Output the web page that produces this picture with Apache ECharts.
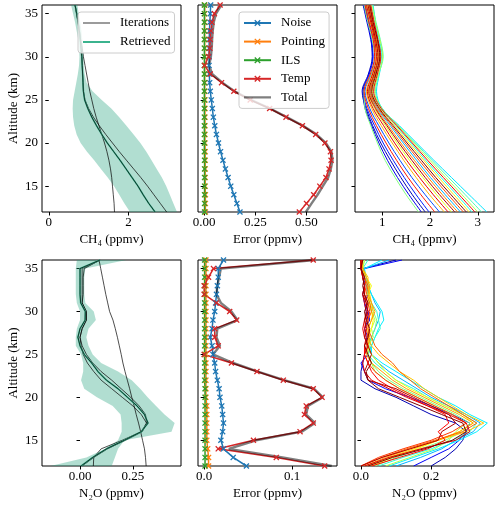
<!DOCTYPE html>
<html><head><meta charset="utf-8">
<script src="https://cdn.jsdelivr.net/npm/echarts@6/dist/echarts.min.js"></script>
<style>html,body{margin:0;padding:0;background:#fff}#c{width:500px;height:508px}</style>
</head><body><div id="c"></div>
<script>
// ---------- data ----------
const ALT = [12,13,14,15,16,17,18,19,20,21,22,23,24,25,26,27,28,29,30,31,32,33,34,35,36];
const ALT2 = [12,14,16,18,20,22,24,26,28,30,32,34,36];
const Y_TICKS = [15,20,25,30,35];

// CH4 retrieval panel
const ch4Retrieved = [2.67,2.51,2.37,2.24,2.09,1.94,1.79,1.63,1.47,1.33,1.2,1.08,0.98,0.9,0.87,0.86,0.85,0.84,0.83,0.81,0.79,0.77,0.74,0.7,0.66];
const ch4BandLow = [2.04,1.9,1.77,1.64,1.48,1.31,1.14,0.96,0.8,0.7,0.64,0.61,0.6,0.61,0.65,0.69,0.73,0.76,0.77,0.76,0.74,0.7,0.66,0.61,0.56];
const ch4BandHigh = [3.22,3.13,3.04,2.95,2.84,2.71,2.58,2.45,2.3,2.13,1.95,1.77,1.57,1.33,1.1,0.95,0.9,0.88,0.87,0.86,0.84,0.82,0.79,0.75,0.72];
const ch4IterA = [1.65,1.64,1.62,1.6,1.58,1.55,1.51,1.46,1.4,1.33,1.26,1.19,1.13,1.08,1.03,0.99,0.95,0.91,0.87,0.84,0.8,0.77,0.73,0.7,0.66];
const ch4IterB = [2.96,2.8,2.64,2.48,2.31,2.13,1.95,1.77,1.6,1.43,1.27,1.12,1.0,0.91,0.87,0.86,0.85,0.84,0.83,0.81,0.79,0.77,0.74,0.7,0.66];

// CH4 error panel
const ch4Noise = [0.175,0.16,0.145,0.13,0.117,0.104,0.092,0.08,0.07,0.06,0.052,0.045,0.04,0.035,0.03,0.027,0.025,0.024,0.024,0.024,0.025,0.026,0.028,0.03,0.032];
const ch4Pointing = [0.006,0.006,0.006,0.005,0.005,0.005,0.005,0.005,0.004,0.004,0.004,0.004,0.004,0.004,0.003,0.003,0.003,0.003,0.003,0.003,0.003,0.003,0.003,0.003,0.003];
const ch4ILS = [0.002,0.002,0.002,0.002,0.002,0.002,0.002,0.001,0.001,0.001,0.001,0.001,0.001,0.001,0.001,0.001,0.001,0.001,0.001,0.001,0.001,0.001,0.001,0.001,0.001];
const ch4Temp = [0.465,0.5,0.535,0.565,0.595,0.61,0.62,0.617,0.59,0.545,0.48,0.4,0.32,0.225,0.145,0.085,0.03,0.002,0.022,0.028,0.03,0.033,0.038,0.05,0.078];
const ch4Total = [0.497,0.525,0.554,0.58,0.606,0.619,0.627,0.622,0.594,0.548,0.483,0.403,0.322,0.228,0.148,0.089,0.039,0.024,0.033,0.037,0.039,0.042,0.047,0.058,0.084];

// CH4 ensemble panel (altitudes ALT2), colour position in jet map
const ch4Ens = [
  [1.76,1.5,1.27,1.06,0.9,0.76,0.64,0.62,0.76,0.84,0.79,0.7,0.62],
  [1.82,1.56,1.32,1.11,0.93,0.78,0.64,0.6,0.72,0.8,0.76,0.68,0.6],
  [1.9,1.63,1.39,1.17,0.97,0.8,0.66,0.58,0.71,0.79,0.77,0.7,0.61],
  [1.98,1.71,1.46,1.23,1.02,0.84,0.68,0.6,0.73,0.81,0.78,0.71,0.63],
  [2.1,1.81,1.54,1.3,1.08,0.88,0.71,0.62,0.75,0.84,0.81,0.72,0.64],
  [2.2,1.9,1.62,1.37,1.14,0.93,0.74,0.64,0.77,0.85,0.82,0.73,0.65],
  [2.3,1.99,1.71,1.45,1.21,0.98,0.78,0.67,0.79,0.87,0.83,0.75,0.66],
  [2.38,2.07,1.78,1.51,1.26,1.03,0.81,0.69,0.8,0.88,0.84,0.76,0.67],
  [2.45,2.14,1.85,1.57,1.31,1.07,0.84,0.71,0.82,0.9,0.86,0.77,0.69],
  [2.52,2.2,1.9,1.62,1.35,1.1,0.86,0.72,0.83,0.91,0.86,0.78,0.7],
  [2.58,2.26,1.96,1.67,1.39,1.13,0.88,0.74,0.84,0.92,0.87,0.79,0.71],
  [2.64,2.32,2.01,1.72,1.44,1.17,0.9,0.75,0.85,0.94,0.89,0.8,0.72],
  [2.7,2.38,2.07,1.77,1.48,1.2,0.92,0.76,0.86,0.94,0.88,0.8,0.73],
  [2.76,2.44,2.12,1.82,1.52,1.23,0.94,0.78,0.87,0.95,0.9,0.81,0.74],
  [2.82,2.5,2.18,1.87,1.56,1.26,0.95,0.79,0.88,0.96,0.9,0.82,0.75],
  [2.88,2.56,2.23,1.91,1.6,1.29,0.97,0.8,0.89,0.98,0.92,0.84,0.76],
  [2.94,2.61,2.28,1.95,1.63,1.31,0.98,0.82,0.9,0.97,0.91,0.83,0.76],
  [3.0,2.67,2.33,2.0,1.66,1.33,0.99,0.84,0.92,1.01,0.95,0.86,0.78],
  [3.08,2.74,2.39,2.04,1.69,1.34,1.0,0.86,0.93,1.02,0.96,0.87,0.8],
  [3.19,2.82,2.45,2.08,1.72,1.36,1.0,0.88,0.94,1.0,0.94,0.86,0.81]
];
const ch4EnsT = [0.5,0.1,0.05,0.15,0.85,0.2,0.7,0.9,0.6,0.95,0.75,0.3,0.8,1.0,0.65,0.4,0.88,0.55,0.45,0.35];

// N2O retrieval panel
const n2oRetrieved = [0.005,0.06,0.125,0.21,0.29,0.322,0.305,0.27,0.225,0.18,0.125,0.085,0.055,0.02,0.0,-0.01,0.0,0.024,0.025,0.003,0.0,0.0,0.0,0.0,0.095];
const n2oBandLow = [-0.14,0.03,0.12,0.18,0.197,0.197,0.192,0.155,0.08,0.02,0.005,0.015,0.015,0.005,-0.02,-0.02,-0.015,0.0,0.0,-0.015,-0.02,-0.02,-0.02,-0.02,-0.015];
const n2oBandHigh = [0.15,0.165,0.18,0.21,0.433,0.448,0.4,0.36,0.32,0.285,0.245,0.18,0.1,0.06,0.04,0.03,0.04,0.075,0.065,0.025,0.02,0.02,0.02,0.025,0.22];
const n2oIterP = [0.313,0.31,0.305,0.296,0.287,0.277,0.266,0.256,0.245,0.235,0.224,0.213,0.203,0.195,0.186,0.177,0.167,0.156,0.14,0.131,0.122,0.114,0.106,0.098,0.09];
const n2oIterC = [0.063,0.065,0.1,0.2,0.29,0.315,0.29,0.25,0.2,0.15,0.1,0.065,0.035,0.015,0.005,0.0,0.01,0.03,0.03,0.01,0.015,0.015,0.015,0.02,0.095];
const n2oIterD = [0.01,0.065,0.13,0.215,0.295,0.315,0.31,0.28,0.24,0.195,0.15,0.1,0.06,0.03,0.01,0.0,0.01,0.03,0.03,0.01,0.01,0.01,0.01,0.01,0.095];

// N2O error panel
const n2oNoise = [0.048,0.033,0.022,0.019,0.021,0.022,0.021,0.02,0.018,0.017,0.015,0.013,0.012,0.01,0.009,0.007,0.009,0.01,0.012,0.013,0.014,0.015,0.016,0.016,0.022];
const n2oPointing = [0.005,0.005,0.004,0.003,0.003,0.003,0.003,0.003,0.002,0.002,0.002,0.002,0.002,0.002,0.002,0.002,0.002,0.002,0.002,0.002,0.002,0.002,0.002,0.002,0.002];
const n2oILS = [0.001,0.001,0.001,0.001,0.001,0.001,0.001,0.001,0.001,0.001,0.0005,0.0005,0.0005,0.0005,0.0005,0.0005,0.0005,0.0005,0.0005,0.0005,0.0005,0.0005,0.0005,0.0005,0.0005];
const n2oTemp = [0.137,0.082,0.016,0.056,0.109,0.124,0.114,0.116,0.134,0.124,0.09,0.06,0.031,0.0,0.016,0.012,0.012,0.037,0.029,0.014,0.0,0.0,0.005,0.0106,0.124];
const n2oTotal = [0.145,0.089,0.028,0.059,0.111,0.126,0.116,0.118,0.135,0.125,0.091,0.061,0.033,0.01,0.018,0.014,0.015,0.038,0.031,0.019,0.014,0.015,0.017,0.019,0.126];

// N2O ensemble panel (altitudes ALT)
const n2oEns = [
  [0.2,0.24,0.27,0.29,0.3,0.27,0.2,0.15,0.1,0.04,0.0,0.0,0.005,0.01,0.02,0.015,0.01,0.02,0.015,0.01,0.005,0.01,0.005,0.005,0.1],
  [0.15,0.2,0.25,0.28,0.3,0.31,0.26,0.2,0.14,0.07,0.02,0.01,0.0,0.02,0.03,0.02,0.01,0.025,0.02,0.01,0.02,0.015,0.005,0.01,0.117],
  [0.1,0.17,0.23,0.27,0.32,0.34,0.3,0.25,0.2,0.16,0.12,0.08,0.05,0.03,0.02,0.03,0.04,0.05,0.055,0.04,0.03,0.02,0.01,0.01,0.08],
  [0.08,0.15,0.22,0.28,0.33,0.36,0.31,0.27,0.22,0.18,0.14,0.1,0.06,0.03,0.03,0.04,0.05,0.065,0.06,0.045,0.03,0.02,0.015,0.01,0.06],
  [0.05,0.12,0.2,0.26,0.31,0.33,0.29,0.24,0.19,0.15,0.1,0.07,0.04,0.02,0.03,0.04,0.055,0.05,0.045,0.03,0.02,0.025,0.01,0.005,0.02],
  [0.04,0.1,0.17,0.24,0.29,0.31,0.27,0.22,0.17,0.12,0.08,0.05,0.03,0.02,0.025,0.03,0.04,0.045,0.035,0.025,0.02,0.015,0.01,0.005,0.01],
  [0.07,0.14,0.21,0.25,0.27,0.3,0.26,0.21,0.16,0.11,0.07,0.04,0.03,0.02,0.02,0.035,0.03,0.04,0.03,0.02,0.025,0.02,0.01,0.005,0.01],
  [0.03,0.09,0.16,0.22,0.28,0.32,0.29,0.24,0.19,0.14,0.1,0.07,0.05,0.03,0.02,0.02,0.03,0.035,0.03,0.025,0.02,0.03,0.015,0.005,0.005],
  [0.02,0.08,0.15,0.22,0.3,0.35,0.3,0.26,0.22,0.18,0.15,0.11,0.08,0.05,0.03,0.02,0.02,0.03,0.035,0.03,0.025,0.02,0.02,0.005,0.0],
  [0.01,0.07,0.14,0.22,0.28,0.32,0.28,0.23,0.18,0.13,0.09,0.06,0.03,0.015,0.02,0.025,0.02,0.03,0.04,0.03,0.02,0.025,0.015,0.005,0.0],
  [0.0,0.06,0.13,0.21,0.29,0.33,0.29,0.25,0.21,0.17,0.14,0.11,0.09,0.06,0.04,0.03,0.02,0.02,0.03,0.025,0.015,0.02,0.01,0.0,0.0],
  [0.0,0.05,0.12,0.2,0.26,0.3,0.26,0.21,0.16,0.11,0.07,0.04,0.02,0.01,0.015,0.02,0.015,0.02,0.025,0.02,0.01,0.015,0.01,0.0,0.0],
  [0.03,0.11,0.19,0.24,0.22,0.25,0.24,0.19,0.14,0.09,0.05,0.03,0.02,0.01,0.01,0.015,0.01,0.015,0.02,0.015,0.01,0.01,0.005,0.0,0.005],
  [0.01,0.08,0.17,0.27,0.31,0.3,0.25,0.19,0.13,0.08,0.03,0.01,0.005,0.01,0.02,0.01,0.005,0.01,0.015,0.01,0.005,0.01,0.005,0.0,0.0],
  [0.0,0.06,0.14,0.22,0.23,0.27,0.25,0.2,0.15,0.1,0.02,0.01,0.02,0.03,0.02,0.01,0.015,0.01,0.02,0.015,0.005,0.01,0.005,0.0,0.0],
  [0.02,0.09,0.18,0.26,0.3,0.29,0.23,0.17,0.11,0.05,0.02,0.015,0.03,0.02,0.01,0.02,0.025,0.015,0.01,0.02,0.01,0.005,0.01,0.0,0.005]
];
const n2oEnsT = [0.05,0.12,0.3,0.36,0.42,0.5,0.55,0.62,0.68,0.72,0.78,0.82,0.87,0.9,0.95,1.0];

// ---------- chart ----------
const FONT = 'Liberation Serif';
const XSYM = 'path://M1.5,0L5,3.5L8.5,0L10,1.5L6.5,5L10,8.5L8.5,10L5,6.5L1.5,10L0,8.5L3.5,5L0,1.5Z';
const C = {noise:'#1f77b4', pointing:'#ff7f0e', ils:'#2ca02c', temp:'#d62728', total:'rgba(0,0,0,0.5)', ret:'#3bb38e', fill:'rgba(27,158,119,0.34)', iter:'rgba(0,0,0,0.78)'};
// legend line icons: a horizontal band inside a 27x8 box (tiny corner marks fix the box)
function lineIcon(w) {
  const a = (4 - w / 2).toFixed(2), b = (4 + w / 2).toFixed(2);
  return 'path://M0,0L0.01,0L0,0.01Z M27,8L26.99,8L27,7.99Z M0,' + a + 'L27,' + a + 'L27,' + b + 'L0,' + b + 'Z';
}

function jet(t){
  const c = v => Math.round(255*Math.max(0, Math.min(1, v)));
  return 'rgb(' + c(1.5-Math.abs(4*t-3)) + ',' + c(1.5-Math.abs(4*t-2)) + ',' + c(1.5-Math.abs(4*t-1)) + ')';
}
const pairs = (xs, ys) => xs.map((v,i) => [v, ys[i]]);

const GL = [42, 198, 355], GT = [5, 260], GW = 139, GH = [207, 206];
const grids = [];
for (let r = 0; r < 2; r++) for (let c = 0; c < 3; c++)
  grids.push({left: GL[c], top: GT[r], width: GW, height: GH[r], show: true, borderColor: '#000', borderWidth: 1, backgroundColor: 'transparent', containLabel: false});

const xCfg = [
  {min:-0.17, max:3.32, ticks:[0,2], fmt:v=>String(v), name:'CH\u2084 (ppmv)'},
  {min:-0.03, max:0.649, ticks:[0,0.25,0.5], fmt:v=>v.toFixed(2), name:'Error (ppmv)'},
  {min:0.43, max:3.34, ticks:[1,2,3], fmt:v=>String(v), name:'CH\u2084 (ppmv)'},
  {min:-0.18, max:0.478, ticks:[0,0.25], fmt:v=>v.toFixed(2), name:'N\u2082O (ppmv)'},
  {min:-0.007, max:0.151, ticks:[0,0.1], fmt:v=>v.toFixed(1), name:'Error (ppmv)'},
  {min:-0.017, max:0.379, ticks:[0,0.2], fmt:v=>v.toFixed(1), name:'N\u2082O (ppmv)'}
];
const txt = {fontFamily: FONT, fontSize: 13, color: '#000'};
const xAxes = xCfg.map((a, i) => ({
  gridIndex: i, type: 'value', min: a.min, max: a.max,
  name: a.name, nameLocation: 'middle', nameGap: 21, nameTextStyle: txt,
  axisLine: {show: false}, splitLine: {show: false},
  axisTick: {show: true, length: 3.5, lineStyle: {color: '#000', width: 1}, customValues: a.ticks},
  axisLabel: Object.assign({show: true, margin: 4, customValues: a.ticks, formatter: a.fmt}, txt)
}));
const yAxes = [0,1,2,3,4,5].map(i => ({
  gridIndex: i, type: 'value', min: 12, max: 36,
  name: (i % 3 === 0) ? 'Altitude (km)' : '', nameLocation: 'middle', nameGap: 22, nameTextStyle: txt,
  axisLine: {show: false}, splitLine: {show: false},
  axisTick: {show: true, length: 3.5, lineStyle: {color: '#000', width: 1}, customValues: Y_TICKS},
  axisLabel: Object.assign({show: i % 3 === 0, margin: 4, customValues: Y_TICKS}, txt)
}));

const series = [];
function line(name, g, xs, ys, color, width, extra) {
  series.push(Object.assign({
    type: 'line', name: name, xAxisIndex: g, yAxisIndex: g, data: pairs(xs, ys),
    symbol: 'none', lineStyle: {color: color, width: width}, itemStyle: {color: color},
    silent: true, animation: false, emphasis: {disabled: true}
  }, extra || {}));
}
function band(g, lo, hi, fill) {
  series.push({
    type: 'custom', xAxisIndex: g, yAxisIndex: g, data: [[lo[0], ALT[0]]], clip: true, silent: true, animation: false, z: 1,
    renderItem: function (params, api) {
      const pts = [];
      for (let i = 0; i < lo.length; i++) pts.push(api.coord([lo[i], ALT[i]]));
      for (let i = hi.length - 1; i >= 0; i--) pts.push(api.coord([hi[i], ALT[i]]));
      return {type: 'polygon', shape: {points: pts}, style: {fill: fill, stroke: null}};
    }
  });
}
function errLine(name, g, xs, color) {
  line(name, g, xs, ALT, color, 1.5, {symbol: XSYM, symbolSize: 6, showSymbol: true, itemStyle: {color: color, borderWidth: 0}});
}

// panel 1
band(0, ch4BandLow, ch4BandHigh, C.fill);
line('Iterations', 0, ch4IterA, ALT, C.iter, 0.9);
line('Iterations', 0, ch4IterB, ALT, C.iter, 0.9);
line('Retrieved', 0, ch4Retrieved, ALT, C.ret, 1.6);
line('Iterations', 0, ch4Retrieved, ALT, C.iter, 0.9);
// panel 2
errLine('Noise', 1, ch4Noise, C.noise);
errLine('Pointing', 1, ch4Pointing, C.pointing);
errLine('ILS', 1, ch4ILS, C.ils);
errLine('Temp', 1, ch4Temp, C.temp);
line('Total', 1, ch4Total, ALT, C.total, 2.4);
// panel 3
ch4Ens.map((d, i) => i).sort((a, b) => ch4EnsT[a] - ch4EnsT[b]).forEach(i => {
  line('ens' + i, 2, ch4Ens[i], ALT2, jet(ch4EnsT[i]), 1, {smooth: 0.35});
});
// panel 4
band(3, n2oBandLow, n2oBandHigh, C.fill);
line('Iterations', 3, n2oIterP, ALT, C.iter, 0.9);
line('Iterations', 3, n2oIterC, ALT, C.iter, 0.9);
line('Iterations', 3, n2oIterD, ALT, C.iter, 0.9);
line('Retrieved', 3, n2oRetrieved, ALT, C.ret, 1.6);
line('Iterations', 3, n2oRetrieved, ALT, C.iter, 0.9);
// panel 5
errLine('Noise', 4, n2oNoise, C.noise);
errLine('Pointing', 4, n2oPointing, C.pointing);
errLine('ILS', 4, n2oILS, C.ils);
errLine('Temp', 4, n2oTemp, C.temp);
line('Total', 4, n2oTotal, ALT, C.total, 2.4);
// panel 6
n2oEns.forEach((d, i) => line('nens' + i, 5, d, ALT, jet(n2oEnsT[i]), 1));

const legendBase = {
  orient: 'vertical', itemWidth: 27, itemHeight: 8, selectedMode: false,
  backgroundColor: 'rgba(255,255,255,0.8)', borderColor: '#ccc', borderWidth: 1, borderRadius: 3,
  textStyle: {fontFamily: FONT, fontSize: 13, color: '#000', lineHeight: 14, padding: [0, 0, 0, 5]}
};
const option = {
  animation: false,
  textStyle: {fontFamily: FONT},
  grid: grids, xAxis: xAxes, yAxis: yAxes, series: series,
  legend: [
    Object.assign({}, legendBase, {data: [{name: 'Iterations', icon: lineIcon(1)}, {name: 'Retrieved', icon: lineIcon(1.8)}], left: 78, top: 12, padding: [4, 4, 4, 5], itemGap: 5}),
    Object.assign({}, legendBase, {data: ['Noise', 'Pointing', 'ILS', 'Temp', {name: 'Total', icon: lineIcon(2.4)}], left: 239, top: 12, padding: [4, 4, 4, 4], itemGap: 4.6})
  ]
};
const chart = echarts.init(document.getElementById('c'), null, {renderer: 'canvas', width: 500, height: 508});
chart.setOption(option);
</script>
</body></html>
